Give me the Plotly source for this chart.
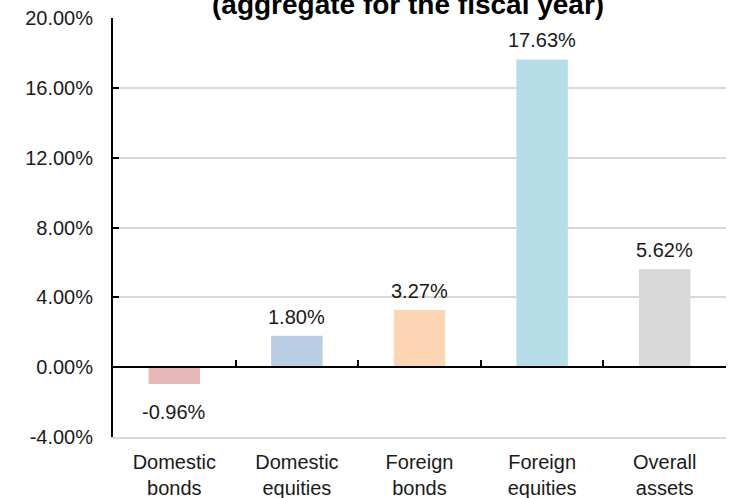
import plotly.graph_objects as go

categories = ["Domestic<br>bonds", "Domestic<br>equities", "Foreign<br>bonds", "Foreign<br>equities", "Overall<br>assets"]
returns_pct = [-0.96, 1.80, 3.27, 17.63, 5.62]
bar_colors = ["#E6B9B8", "#B9CDE5", "#FCD5B5", "#B7DEE8", "#D9D9D9"]
y_ticks = [-4, 0, 4, 8, 12, 16, 20]
y_tick_labels = [f"{v:.2f}%" for v in y_ticks]
title_text = "(aggregate for the fiscal year)"

FONT = "Liberation Sans, Arial, sans-serif"
TXT = "#1a1a1a"

fig = go.Figure()
fig.add_trace(go.Bar(
    x=categories, y=returns_pct,
    marker=dict(color=bar_colors, line=dict(width=0)),
    hoverinfo="skip", width=0.42,
))
# invisible copy to drive the axis line drawn at zero
fig.add_trace(go.Bar(
    x=categories, y=returns_pct, xaxis="x2", opacity=0,
    marker=dict(color="rgba(0,0,0,0)", line=dict(width=0)), hoverinfo="skip", showlegend=False,
))

y_min, y_max = y_ticks[0], y_ticks[-1]
zero_pos = (0 - y_min) / (y_max - y_min)

annotations = []
for c, v in zip(categories, returns_pct):
    annotations.append(dict(
        x=c, y=v, xref="x", yref="y", text=f"{v:.2f}%", showarrow=False,
        yanchor="bottom" if v >= 0 else "top", yshift=6 if v >= 0 else -15,
        font=dict(family=FONT, size=20, color=TXT),
    ))
annotations.append(dict(
    text="<b>" + title_text + "</b>", xref="paper", yref="paper",
    x=0.481, y=1.0, yshift=-4, xanchor="center", yanchor="bottom",
    showarrow=False, font=dict(family=FONT, size=28, color="black"),
))

fig.update_layout(
    width=729, height=498,
    margin=dict(l=113, r=3, t=18, b=61, autoexpand=False),
    paper_bgcolor="white", plot_bgcolor="white",
    showlegend=False,
    font=dict(family=FONT, size=20, color=TXT),
    xaxis=dict(
        type="category", showline=True, linecolor="#D9D9D9", linewidth=1.5,
        ticks="", showgrid=False,
        tickfont=dict(family=FONT, size=20, color=TXT),
        ticklabelstandoff=6, automargin=False,
    ),
    xaxis2=dict(
        type="category", overlaying="x", matches="x", anchor="free", position=zero_pos,
        showline=True, linecolor="black", linewidth=2,
        ticks="inside", tickson="boundaries", ticklen=6, tickwidth=2, tickcolor="black",
        showticklabels=False, showgrid=False, side="bottom", automargin=False,
    ),
    yaxis=dict(
        range=[y_min, y_max], tickvals=y_ticks, ticktext=y_tick_labels,
        showline=True, linecolor="black", linewidth=2,
        ticks="inside", ticklen=6, tickwidth=2, tickcolor="black",
        showgrid=True, gridcolor="#D9D9D9", gridwidth=1.5,
        zeroline=False, automargin=False,
        tickfont=dict(family=FONT, size=20, color=TXT),
        ticklabelstandoff=14,
    ),
    annotations=annotations,
)

fig.write_html("out.html")
